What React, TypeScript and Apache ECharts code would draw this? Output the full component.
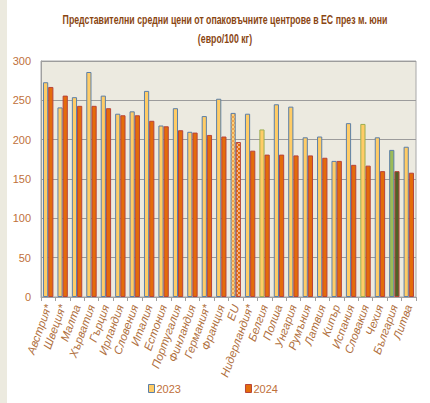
import React, { useEffect, useRef } from "react";
import * as echarts from "echarts";

const categories = [
  "Австрия*", "Швеция*", "Малта", "Хърватия", "Гърция", "Ирландия", "Словения",
  "Италия", "Естония", "Португалия", "Финландия", "Германия*", "Франция", "EU",
  "Нидерландия*", "Белгия", "Полша", "Унгария", "Румъния", "Латвия", "Кипър",
  "Испания", "Словакия", "Чехия", "България", "Литва",
];
const values2023 = [
  273, 241, 254, 286, 256, 233, 236, 262, 218, 240, 210, 230, 252, 234,
  233, 213, 245, 242, 203, 204, 173, 221, 220, 203, 187, 191,
];
const values2024 = [
  267, 256, 243, 243, 240, 231, 231, 224, 217, 212, 209, 206, 204, 197,
  186, 181, 181, 180, 180, 177, 173, 168, 167, 160, 160, 158,
];
const yTicks = [0, 50, 100, 150, 200, 250, 300];
const titleLine1 = "Представителни средни цени от опаковъчните центрове в ЕС през м. юни";
const titleLine2 = "(евро/100 кг)";

const Y_FILL = "#FFCC66";
const O_FILL = "#E46C0A";
const Y_BORDER = "#5B7FA8";
const O_BORDER = "#B8433A";
const GREEN_BORDER = "#9BAE52";
const TITLE_COLOR = "#8A4612";

function makePattern(bg: string, dot: string): any {
  const c = document.createElement("canvas");
  c.width = 4;
  c.height = 4;
  const ctx = c.getContext("2d");
  if (ctx) {
    ctx.fillStyle = bg;
    ctx.fillRect(0, 0, 4, 4);
    ctx.fillStyle = dot;
    ctx.fillRect(0, 0, 2, 2);
    ctx.fillRect(2, 2, 2, 2);
  }
  return { image: c, repeat: "repeat" };
}

export default function App() {
  const ref = useRef<HTMLDivElement>(null);
  useEffect(() => {
    if (!ref.current) return;
    const chart = echarts.init(ref.current, null, { renderer: "svg" });
    const d23 = values2023.map((v, i) => {
      const c = categories[i];
      if (c === "EU")
        return {
          value: v,
          itemStyle: { color: makePattern("#FFD27A", "#F5A54A"), borderColor: Y_BORDER },
        };
      if (c === "България")
        return { value: v, itemStyle: { color: "#9BBB59", borderColor: Y_BORDER } };
      if (c === "Белгия" || c === "Словакия")
        return { value: v, itemStyle: { borderColor: GREEN_BORDER } };
      return v;
    });
    const d24 = values2024.map((v, i) => {
      const c = categories[i];
      if (c === "EU")
        return {
          value: v,
          itemStyle: { color: makePattern(O_FILL, "#F6B98A") },
        };
      if (c === "България")
        return { value: v, itemStyle: { color: "#4F6228" } };
      return v;
    });
    const titleStyle = {
      fontFamily: "'Liberation Sans', Arial, sans-serif",
      fontSize: 12,
      fontWeight: "bold",
      fill: TITLE_COLOR,
      align: "center",
      verticalAlign: "middle",
    };
    chart.setOption({
      animation: false,
      backgroundColor: "transparent",
      graphic: [
        {
          type: "text",
          x: 225,
          y: 19,
          scaleX: 0.73,
          style: { ...titleStyle, text: titleLine1 },
        },
        {
          type: "text",
          x: 225,
          y: 38,
          scaleX: 0.73,
          style: { ...titleStyle, text: titleLine2 },
        },
      ],
      legend: {
        bottom: 4,
        left: 143,
        itemGap: 64,
        itemWidth: 6,
        itemHeight: 8,
        icon: "rect",
        textStyle: {
          fontFamily: "'Liberation Sans', sans-serif",
          fontSize: 11,
          color: "#C0703A",
          padding: [0, 0, 0, -3],
        },
        data: [
          { name: "2023", itemStyle: { color: Y_FILL, borderColor: Y_BORDER, borderWidth: 1 } },
          { name: "2024", itemStyle: { color: O_FILL, borderColor: O_BORDER, borderWidth: 1 } },
        ],
      },
      grid: {
        left: 41,
        right: 14,
        top: 61,
        bottom: 106,
        show: true,
        backgroundColor: "#ECEAE0",
        borderColor: "#A8A8A8",
        borderWidth: 1,
      },
      xAxis: {
        type: "category",
        data: categories,
        axisLine: { lineStyle: { color: "#A0A0A0" } },
        axisTick: { show: true, length: 4, lineStyle: { color: "#A0A0A0" } },
        axisLabel: {
          rotate: 70,
          interval: 0,
          margin: 8,
          fontFamily: "'Liberation Sans', sans-serif",
          fontStyle: "italic",
          fontSize: 11.5,
          color: "#B0703E",
        },
      },
      yAxis: {
        type: "value",
        min: 0,
        max: 300,
        interval: 50,
        axisLine: { show: true, lineStyle: { color: "#A0A0A0" } },
        axisTick: { show: false },
        splitLine: { lineStyle: { color: "#9C9C9C", width: 1 } },
        axisLabel: {
          margin: 10,
          fontFamily: "'Liberation Sans', sans-serif",
          fontSize: 11,
          color: "#C0703A",
          formatter: (v: number) => (yTicks.includes(v) ? String(v) : ""),
        },
      },
      series: [
        {
          name: "2023",
          type: "bar",
          data: d23,
          barGap: "0%",
          barCategoryGap: "28%",
          itemStyle: { color: Y_FILL, borderColor: Y_BORDER, borderWidth: 1 },
        },
        {
          name: "2024",
          type: "bar",
          data: d24,
          barGap: "0%",
          barCategoryGap: "28%",
          itemStyle: { color: O_FILL, borderColor: O_BORDER, borderWidth: 1 },
        },
      ],
    });
    return () => chart.dispose();
  }, []);
  return (
    <div style={{ position: "fixed", left: 0, top: 0, width: 430, height: 403, background: "#fff" }}>
      <div style={{ position: "absolute", left: 0, top: 0, width: 7, height: 403, background: "#ECEADF" }} />
      <div ref={ref} style={{ position: "absolute", left: 0, top: 0, width: 430, height: 403 }} />
    </div>
  );
}
